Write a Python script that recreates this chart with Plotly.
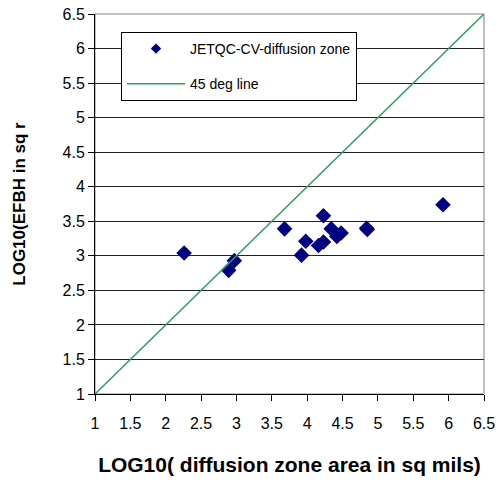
import plotly.graph_objects as go

diff_x = [2.26, 2.97, 2.89, 3.68, 3.92, 3.98, 4.23, 4.34, 4.23, 4.16, 4.42, 4.48, 4.84, 4.85, 5.92]
diff_y = [3.04, 2.93, 2.79, 3.39, 3.01, 3.21, 3.58, 3.39, 3.20, 3.15, 3.28, 3.33, 3.40, 3.38, 3.74]
line_x = [1, 6.5]
line_y = [1, 6.5]
ticks = [1, 1.5, 2, 2.5, 3, 3.5, 4, 4.5, 5, 5.5, 6, 6.5]
tick_text = ["1", "1.5", "2", "2.5", "3", "3.5", "4", "4.5", "5", "5.5", "6", "6.5"]

NAVY = "#000080"
GREEN = "#2E9E63"

fig = go.Figure()
fig.add_trace(go.Scatter(x=diff_x, y=diff_y, mode="markers", name="JETQC-CV-diffusion zone",
                         showlegend=False,
                         marker=dict(symbol="diamond", color=NAVY, size=12)))
fig.add_trace(go.Scatter(x=line_x, y=line_y, mode="lines", name="45 deg line",
                         showlegend=False, line=dict(color=GREEN, width=1.5)))
# legend entries (smaller symbol like the reference)
fig.add_trace(go.Scatter(x=[None], y=[None], mode="markers", name="JETQC-CV-diffusion zone",
                         legendgroup="a", marker=dict(symbol="diamond", color=NAVY, size=8)))
fig.add_trace(go.Scatter(x=[None], y=[None], mode="lines", name="45 deg line",
                         legendgroup="b", line=dict(color=GREEN, width=1.5)))

fig.update_layout(
    width=504, height=486,
    margin=dict(l=95, r=20, t=14, b=92),
    paper_bgcolor="white", plot_bgcolor="white",
    font=dict(family="Liberation Sans, Arial", size=16, color="black"),
    showlegend=True,
    legend=dict(x=0.0668, y=0.9526, xanchor="left", yanchor="top",
                bordercolor="black", borderwidth=1, bgcolor="white",
                font=dict(size=14, color="black"), itemwidth=58,
                traceorder="grouped", tracegroupgap=14),
    xaxis=dict(range=[1, 6.5], tickvals=ticks, ticktext=tick_text, automargin=False,
               showgrid=False, zeroline=False, showline=True, linecolor="black", linewidth=1,
               ticks="outside", ticklen=6, tickcolor="black",
               tickfont=dict(size=16), ticklabelstandoff=9,
               title=dict(text="<b>LOG10( diffusion zone area in sq mils)</b>", font=dict(size=21), standoff=26)),
    yaxis=dict(range=[1, 6.5], tickvals=ticks, ticktext=tick_text, automargin=False,
               showgrid=True, gridcolor="#222222", gridwidth=1, zeroline=False,
               showline=True, linecolor="black", linewidth=1,
               ticks="outside", ticklen=6, tickcolor="black",
               tickfont=dict(size=16),
               title=dict(text="<b>LOG10(EFBH in sq r</b>", font=dict(size=17), standoff=32)),
)
fig.add_shape(type="rect", xref="paper", yref="paper", x0=0, y0=0, x1=1, y1=1,
              line=dict(color="#808080", width=1), layer="below")

fig.write_html("out.html")
